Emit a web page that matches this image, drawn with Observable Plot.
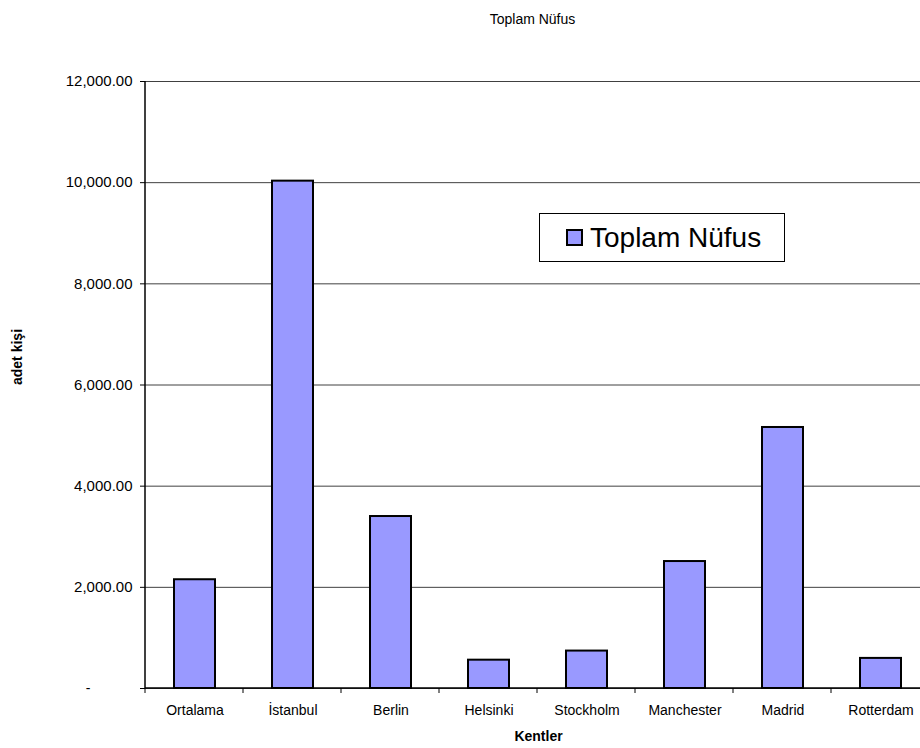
<!DOCTYPE html>
<html><head><meta charset="utf-8">
<script src="https://cdn.jsdelivr.net/npm/d3@7"></script>
<script src="https://cdn.jsdelivr.net/npm/@observablehq/plot@0.6"></script>
<style>
body{margin:0;background:#fff;}
#wrap{position:relative;width:920px;height:748px;overflow:hidden;background:#fff;}
#legend{position:absolute;left:539px;top:213px;width:246px;height:49px;border:1px solid #000;background:#fff;display:flex;align-items:center;font-family:"Liberation Sans",Arial,sans-serif;font-size:28px;color:#000;box-sizing:border-box;}
#legend .sw{width:17px;height:17px;box-sizing:border-box;border:2px solid #000;background:#9999ff;margin-left:26px;margin-right:7px;flex:none;}
</style></head><body><div id="wrap"></div>
<script>
const title = "Toplam Nüfus";
const seriesName = "Toplam Nüfus";
const xLabel = "Kentler";
const yLabel = "adet kişi";
const categories = ["Ortalama", "İstanbul", "Berlin", "Helsinki", "Stockholm", "Manchester", "Madrid", "Rotterdam"];
const values = [2150, 10030, 3400, 560, 740, 2510, 5160, 595];
const yTicks = [0, 2000, 4000, 6000, 8000, 10000, 12000];

const data = categories.map((c, i) => ({kent: c, nufus: values[i]}));
const fmt = d => d === 0 ? "-" : d3.format(",.2f")(d);
const font = '"Liberation Sans", Arial, sans-serif';

const chart = Plot.plot({
  width: 920, height: 748,
  marginLeft: 145, marginRight: -11, marginTop: 81, marginBottom: 60,
  style: {fontFamily: font, fontSize: "14px", background: "#fff", color: "#000", overflow: "visible"},
  x: {domain: categories, paddingInner: 0.58, paddingOuter: 0.29, label: null, tickSize: 0, tickPadding: 17},
  y: {domain: [0, 12000], ticks: yTicks, tickFormat: fmt, label: null, tickSize: 5, tickPadding: 8},
  marks: [
    Plot.ruleY(yTicks, {y: d => d, stroke: "#404040", strokeWidth: 1}),
    Plot.barY(data, {x: "kent", y: "nufus", fill: "#9999ff", stroke: "#000", strokeWidth: 2}),
    Plot.text([title], {text: d => d, frameAnchor: "top", dy: -67, dx: -6, fontSize: 14}),
    Plot.text([xLabel], {text: d => d, frameAnchor: "bottom", dy: 52, fontWeight: "bold", fontSize: 14}),
    Plot.text([yLabel], {text: d => d, frameAnchor: "left", dx: -128, rotate: -90, fontWeight: "bold", fontSize: 14})
  ]
});

// axis lines and category boundary ticks
const xs = chart.scale("x");
const ys = chart.scale("y");
const svg = d3.select(chart);
const g = svg.append("g").attr("stroke", "#000");
const x0 = xs.range[0], step = xs.step;
const yBase = ys.apply(0), yTop = ys.apply(12000);
g.append("line").attr("x1", x0).attr("x2", x0).attr("y1", yTop).attr("y2", yBase).attr("stroke-width", 1.5);
g.append("line").attr("x1", x0).attr("x2", xs.range[1]).attr("y1", yBase).attr("y2", yBase).attr("stroke-width", 1.5);
for (let i = 0; i <= categories.length; i++) {
  const xx = x0 + i * step;
  g.append("line").attr("x1", xx).attr("x2", xx).attr("y1", yBase).attr("y2", yBase + 5).attr("stroke-width", 1);
}
// y tick labels: slightly larger; zero dash placed like accounting format
svg.selectAll("text").filter(function () {
  return /^[\d,.]+$/.test(this.textContent) || this.textContent === "-";
}).each(function () {
  const t = d3.select(this);
  if (t.text().length > 1 && /,|\./.test(t.text()) && t.text().includes(".00")) t.attr("font-size", 15);
  if (t.text() === "-") t.attr("dx", -42);
});

const wrap = document.getElementById("wrap");
wrap.appendChild(chart);
const leg = document.createElement("div");
leg.id = "legend";
leg.innerHTML = '<div class="sw"></div><span>' + seriesName + '</span>';
wrap.appendChild(leg);
</script>
</body></html>
